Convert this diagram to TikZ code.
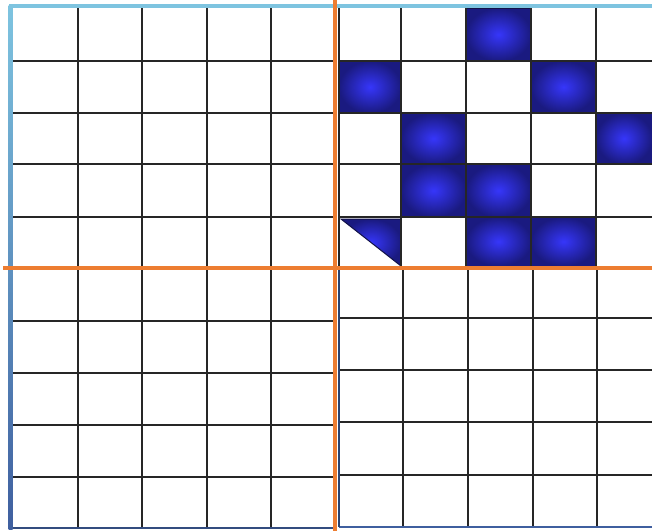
\documentclass[tikz,border=0pt]{standalone}
\begin{document}
\begin{tikzpicture}[x=1pt,y=-1pt]
\definecolor{cellin}{HTML}{3636FA}
\definecolor{cellout}{HTML}{1A1A80}
\definecolor{celledge}{HTML}{121248}
\definecolor{orangeln}{HTML}{ED7D31}
\definecolor{framelight}{HTML}{7EC4E0}
\definecolor{framedark}{HTML}{3F5F9F}
\tikzset{
  gridline/.style={draw=black!85, line width=2pt},
  cellshade/.style={inner color=cellin, outer color=cellout},
  celledgeline/.style={draw=celledge, line width=1pt},
  orangeline/.style={draw=orangeln, line width=4pt},
}
\useasboundingbox (0,0) rectangle (652,531);
\fill[white] (0,0) rectangle (652,531);
% blue cells
\foreach \a/\b/\c/\d in {466/8/531/61, 339/61/401/113, 531/61/596/113, 401/113/466/164, 596/113/652/164, 401/164/466/217, 466/164/531/217, 466/217/531/266, 531/217/596/266}{
  \shade[cellshade] (\a,\b) rectangle (\c,\d);
  \draw[celledgeline] (\a,\b) rectangle (\c,\d);
}
% triangle
\shade[cellshade] (341,219) -- (401,219) -- (401,266) -- cycle;
\draw[celledgeline] (341,219) -- (401,219) -- (401,266) -- cycle;
% left grid
\foreach \x in {78,142,207,271} \draw[gridline] (\x,8) -- (\x,528);
\foreach \y in {61,113,164,217,321,373,425,477} \draw[gridline] (13,\y) -- (335,\y);
% right grid
\foreach \x in {401,466,531,596} \draw[gridline] (\x,8) -- (\x,268);
\foreach \x in {403,468,533,597} \draw[gridline] (\x,268) -- (\x,527);
\foreach \y in {61,113,164,217,318,370,422,475} \draw[gridline] (339,\y) -- (652,\y);
% frames
\draw[draw=framedark!80!black, line width=2pt] (11,528) -- (335,528);
\draw[draw=framedark, line width=2pt] (339,527) -- (652,527);
\draw[draw=black!85, line width=2pt] (339,8) -- (339,268);
\draw[draw=framedark!70!black, line width=2pt] (339,268) -- (339,527);
\draw[draw=framelight, line width=3.5pt] (9,6) -- (652,6);
\shade[top color=framelight, bottom color=framedark] (8.5,5) rectangle (12.5,529);
% orange dividers
\draw[orangeline] (335,0) -- (335,531);
\draw[orangeline] (3,268) -- (652,268);
\end{tikzpicture}
\end{document}
